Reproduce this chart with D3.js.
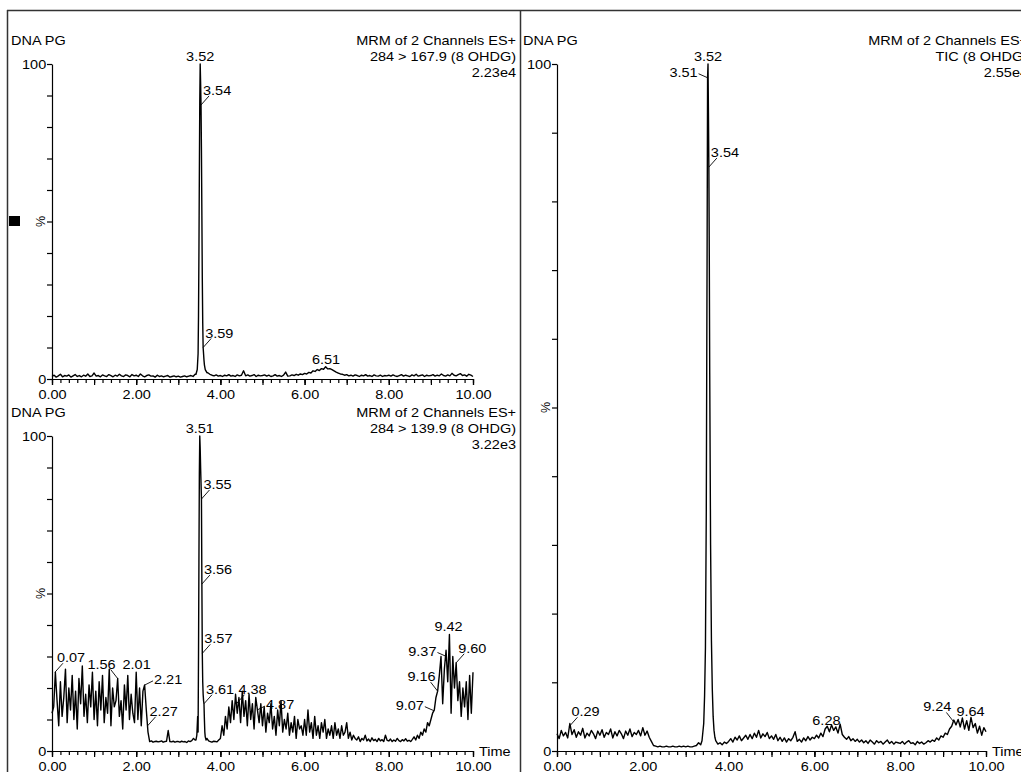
<!DOCTYPE html>
<html><head><meta charset="utf-8">
<script src="https://cdnjs.cloudflare.com/ajax/libs/d3/7.8.5/d3.min.js"></script>
<style>
html,body{margin:0;padding:0;background:#fff;}
svg{display:block;}
text{font-family:"Liberation Sans",Arial,sans-serif;font-size:12.5px;fill:#000;}
</style></head><body><svg id="c" width="1021" height="772"></svg>
<script>
// ---------------- DATA ----------------
const xLabelTicks = [0, 2, 4, 6, 8, 10];
const yTicks = [0, 10, 20, 30, 40, 50, 60, 70, 80, 90, 100];
const minorStep = 0.2;

// Top-left: MRM 284 > 167.9, sampled every 0.05 min
const tlStep = 0.05;
const tlValues = [
  0.8,1.2,0.6,1.0,1.5,0.7,1.1,0.9,1.3,0.6,1.0,1.4,0.8,1.1,0.7,1.2,0.9,1.6,0.8,1.0,
  1.9,0.9,1.1,0.7,1.3,1.0,0.8,1.4,1.1,0.7,1.2,0.9,1.5,1.0,0.8,1.3,1.1,0.7,1.4,1.0,
  1.2,0.8,1.6,1.0,0.7,1.1,1.3,0.9,1.0,0.6,1.2,0.8,1.0,0.7,0.9,1.1,0.6,0.8,1.0,0.7,
  0.9,0.6,0.8,1.0,0.7,0.9,1.1,0.8,1.5,2.0,0,0,0,0,2.0,1.5,1.2,1.0,1.3,0.9,
  1.1,0.8,1.2,1.0,1.4,0.9,1.1,0.8,1.3,1.0,1.2,2.6,1.0,1.3,0.9,1.1,1.4,0.8,1.2,1.0,
  1.1,1.3,0.9,1.2,0.8,1.0,1.4,0.9,1.1,0.8,1.2,2.2,0.9,1.0,1.3,1.1,1.5,1.2,1.6,1.4,
  1.8,1.6,2.1,1.9,2.6,2.4,3.0,2.7,3.3,3.1,3.9,3.2,3.3,3.0,2.6,2.2,1.9,1.6,1.5,1.2,
  1.4,1.0,1.2,0.9,1.3,1.1,0.8,1.2,1.0,1.4,0.9,1.1,0.8,1.3,1.0,0.9,1.2,0.8,1.1,1.0,
  1.2,0.9,1.3,1.0,0.8,1.1,1.4,0.9,1.2,1.0,0.8,1.3,1.0,1.5,0.9,1.1,1.3,0.8,1.2,1.0,
  1.1,1.4,0.9,1.2,1.0,1.6,1.1,0.9,1.3,1.0,1.8,1.2,1.0,1.4,1.7,1.1,1.3,0.9,1.5,1.2,0.8
];
const tlPeak = [[3.42,1.5],[3.45,3],[3.47,8],[3.48,20],[3.49,40],[3.50,65],[3.51,88],[3.52,100],
  [3.53,94],[3.54,87],[3.55,72],[3.56,52],[3.57,32],[3.58,18],[3.59,10],[3.60,8],[3.61,6],
  [3.62,4.5],[3.64,3],[3.66,2.5],[3.68,2]];
const tlLabels = [["3.52",3.52,100,"top"],["3.54",3.54,87,"r"],["3.59",3.59,10,"r"],["6.51",6.51,3.9,"top"]];

// Bottom-left: MRM 284 > 139.9, sampled every 0.04 min
const blStep = 0.04;
const blValues = [
  12,14,25,16,8,22,11,17,26,9,20,13,24,10,19,7,23,15,27,11,18,9,21,14,25,
  10,19,8,22,13,24,9,17,12,26,8,20,14,16,23,11,16,7,21,13,24,10,18,12,9,
  25,10,20,8,19,21,13,6,3,3.2,2.8,3,3.1,2.9,3,3.2,2.8,3,3.1,6.5,3,2.9,3.1,2.8,3,
  3,2.8,3.1,2.9,3,2.7,3.2,3,3.3,4,3.5,0,0,0,0,0,0,4,3.2,3,2.8,3.1,3,2.9,3.5,
  4,8,5,11,7,14,9,16,10,18,12,17,9,19,11,16,8,18,10,15,7,17,13,9,15,
  8,14,6,12,9,15,7,11,5,13,8,16,6,10,7,12,5,9,6,11,4,10,7,8,5,
  10,5,13,6,9,4,11,5,8,4,9,6,10,4,7,5,8,4,9,5,7,4,8,5,6,
  9,4,6,3.5,5,4,3.5,4.5,3,4,3.5,5,3.2,3.8,3,4.2,3.3,3.7,3,4,3.2,3.6,3,5,3.4,
  3.2,3.8,3,3.5,3.1,4,3.3,3,3.6,3.2,3.9,3.1,3.4,3,3.7,4.5,3.5,5,4,6,5,7,6,9,8,
  10,12,13,17,19,24,30,15,26,32,22,37,12,30,20,28,16,22,11,20,14,22,10,24,12,25
];
const blPeak = [[3.42,3.5],[3.44,5],[3.46,11],[3.47,6],[3.48,30],[3.49,60],[3.50,88],[3.51,100],
  [3.52,96],[3.53,90],[3.54,85],[3.55,80],[3.56,53],[3.57,31],[3.58,22],[3.59,18],[3.60,16],
  [3.61,15],[3.62,10],[3.63,6],[3.64,4.5],[3.66,3.5]];
const blLabels = [["0.07",0.07,25,"r"],["1.56",1.56,23,"l"],["2.01",2.01,25,"top"],["2.21",2.21,21,"rs"],
  ["2.27",2.27,8,"r"],["3.51",3.51,100,"top"],["3.55",3.55,80,"r"],["3.56",3.56,53,"r"],
  ["3.57",3.57,31,"r"],["3.61",3.61,15,"r"],["4.38",4.38,15,"r"],["4.87",4.87,13,"rs"],
  ["9.07",9.07,12.8,"ls"],["9.16",9.16,19,"l"],["9.37",9.37,30,"ls"],["9.42",9.42,37,"top"],["9.60",9.60,28,"r"]];

// Right: TIC, sampled every 0.05 min
const trStep = 0.05;
const trValues = [
  2.5,1.8,3.0,2.2,2.7,1.9,4.0,2.4,3.1,2.0,2.8,2.3,3.3,1.9,2.6,2.2,3.0,2.5,1.8,2.9,
  2.3,3.1,2.0,2.7,2.4,3.2,1.9,2.8,2.2,3.0,2.5,1.8,2.9,2.3,3.2,2.1,2.7,2.4,3.0,2.2,
  3.4,2.3,2.9,2.0,1.4,0.8,0.7,0.6,0.7,0.6,0.6,0.7,0.6,0.6,0.7,0.6,0.6,0.7,0.6,0.7,
  0.6,0.7,0.6,0.6,0.7,0.8,1.2,0.9,0,0,0,0,0,0,1.5,1.0,1.2,0.9,1.3,1.1,
  1.4,1.8,1.3,2.0,1.6,2.2,1.5,1.9,2.3,1.7,2.4,1.8,2.6,2.0,3.0,1.9,2.5,2.1,2.7,1.8,
  2.2,1.7,2.4,1.5,2.0,1.4,1.9,1.3,1.8,1.5,2.0,2.8,1.4,1.7,1.3,1.9,1.5,2.1,1.6,2.0,
  1.8,2.3,1.9,2.6,2.1,3.2,3.6,2.8,3.8,3.0,3.5,2.6,3.9,2.4,2.0,1.7,2.1,1.5,1.8,1.4,
  1.7,1.3,1.6,1.2,1.5,1.1,1.6,1.3,1.0,1.5,1.2,1.4,1.0,1.3,1.6,1.1,1.4,1.0,1.3,1.2,
  1.1,1.4,1.0,1.3,1.5,1.1,1.2,0.9,1.4,1.1,1.3,1.0,1.2,1.5,1.3,1.6,1.4,1.9,1.6,2.2,
  2.0,2.6,2.4,3.2,3.6,4.5,3.8,4.6,3.5,4.8,3.2,4.4,3.0,4.9,3.4,4.0,2.6,3.6,2.3,3.4,2.8
];
const trPeak = [[3.38,1.5],[3.42,4],[3.44,8],[3.46,15],[3.48,35],[3.50,75],[3.51,98],[3.52,100],
  [3.53,93],[3.54,85],[3.55,72],[3.56,55],[3.58,30],[3.60,16],[3.62,9],[3.64,5],[3.66,3],[3.68,2]];
const trLabels = [["3.52",3.52,100,"top"],["3.51",3.51,98,"ls"],["3.54",3.54,85,"r"],["0.29",0.29,3.6,"r"],
  ["6.28",6.28,3.4,"top"],["9.24",9.24,4.3,"l"],["9.64",9.64,4.6,"top"]];

const tlHeader = ["MRM of 2 Channels ES+", "284 > 167.9 (8 OHDG)", "2.23e4"];
const blHeader = ["MRM of 2 Channels ES+", "284 > 139.9 (8 OHDG)", "3.22e3"];
const trHeader = ["MRM of 2 Channels ES+", "TIC (8 OHDG)", "2.55e4"];
const sampleName = "DNA PG";
const xTitle = "Time";

// ---------------- LAYOUT ----------------
const SX = 1.16;
const svg = d3.select("#c");

function merge(values, step, peak) {
  const lo = peak[0][0], hi = peak[peak.length - 1][0];
  const base = values.map((v, i) => [+(i * step).toFixed(3), v]).filter(d => d[0] < lo || d[0] > hi);
  return base.concat(peak).sort((a, b) => a[0] - b[0]);
}

function txt(g, x, y, s, anchor) {
  return g.append("text").attr("transform", `translate(${x},${y}) scale(${SX},1)`)
    .attr("text-anchor", anchor || "start").text(s);
}

const panels = [
  {values: tlValues, step: tlStep, peak: tlPeak, labels: tlLabels, header: tlHeader,
   x0: 52, x1: 473, y0: 379, y100: 64, nameX: 11, headRight: 516, time: false},
  {values: blValues, step: blStep, peak: blPeak, labels: blLabels, header: blHeader,
   x0: 52, x1: 473, y0: 751, y100: 436, nameX: 11, headRight: 516, time: true},
  {values: trValues, step: trStep, peak: trPeak, labels: trLabels, header: trHeader,
   x0: 557, x1: 986, y0: 751, y100: 64, nameX: 523, headRight: 1028, time: true}
];

// frame
svg.append("line").attr("x1", 7).attr("x2", 1021).attr("y1", 10.5).attr("y2", 10.5).attr("stroke", "#333").attr("stroke-width", 1.5);
svg.append("line").attr("x1", 7.5).attr("x2", 7.5).attr("y1", 10).attr("y2", 772).attr("stroke", "#333").attr("stroke-width", 1.5);
svg.append("line").attr("x1", 520.5).attr("x2", 520.5).attr("y1", 10).attr("y2", 772).attr("stroke", "#333").attr("stroke-width", 1.5);
svg.append("rect").attr("x", 9).attr("y", 216).attr("width", 11).attr("height", 10).attr("fill", "#000");

panels.forEach(p => {
  const g = svg.append("g");
  const x = d3.scaleLinear().domain([0, 10]).range([p.x0, p.x1]);
  const y = d3.scaleLinear().domain([0, 100]).range([p.y0, p.y100]);

  // x axis: minor ticks
  g.append("g").attr("transform", `translate(0,${p.y0})`)
    .call(d3.axisBottom(x).tickValues(d3.range(0, 50.5, 1).map(i => i * minorStep)).tickSize(4).tickSizeOuter(0).tickFormat(""));
  g.append("g").attr("transform", `translate(0,${p.y0})`)
    .call(d3.axisBottom(x).tickValues(d3.range(0, 11)).tickSize(6).tickSizeOuter(0).tickFormat(""))
    .call(a => a.select(".domain").remove());
  g.append("g").attr("transform", `translate(0,${p.y0})`)
    .call(d3.axisBottom(x).tickValues(xLabelTicks).tickSize(6).tickSizeOuter(0).tickPadding(3).tickFormat(d3.format(".2f")))
    .call(a => a.select(".domain").remove())
    .call(a => a.selectAll("text").attr("transform", `scale(${SX},1)`).attr("dy", "0.9em"));

  // y axis
  g.append("g").attr("transform", `translate(${p.x0},0)`)
    .call(d3.axisLeft(y).tickValues(yTicks).tickSize(5).tickSizeOuter(0).tickPadding(0)
      .tickFormat(d => (d === 0 || d === 100) ? d : ""))
    .call(a => a.selectAll("text").attr("transform", `scale(${SX},1)`));
  g.selectAll(".tick line, .domain").attr("stroke", "#000").attr("stroke-width", 1.2);

  // % label
  const pctY = y(50);
  g.append("text").attr("transform", `translate(${p.x0 - 7},${pctY}) rotate(-90)`)
    .attr("text-anchor", "middle").text("%");

  // headers
  txt(g, p.nameX, p.y100 - 19, sampleName);
  p.header.forEach((h, i) => txt(g, p.headRight, p.y100 - 19 + i * 16, h, "end"));
  if (p.time) txt(g, p.x1 + 6, p.y0 + 5, xTitle);

  // trace
  const data = merge(p.values, p.step, p.peak);
  g.append("path").datum(data)
    .attr("d", d3.line().x(d => x(d[0])).y(d => y(d[1])))
    .attr("fill", "none").attr("stroke", "#000").attr("stroke-width", 1.4).attr("stroke-linejoin", "round");

  // peak labels
  p.labels.forEach(([s, t, v, kind]) => {
    const px = x(t), py = y(v);
    let lx = null, ly, tx, ty, anchor;
    if (kind === "top") { tx = px; ty = py - 3; anchor = "middle"; }
    else if (kind === "r") { lx = px + 8; ly = py - 9; tx = px + 2; ty = py - 10; anchor = "start"; }
    else if (kind === "rs") { lx = px + 8; ly = py - 4; tx = px + 9; ty = py - 1; anchor = "start"; }
    else if (kind === "l") { lx = px - 7; ly = py - 9; tx = px - 2; ty = py - 10; anchor = "end"; }
    else { lx = px - 9; ly = py - 4; tx = px - 10; ty = py - 1; anchor = "end"; }
    if (lx !== null) g.append("line").attr("x1", px).attr("y1", py).attr("x2", lx).attr("y2", ly)
      .attr("stroke", "#000").attr("stroke-width", 0.9);
    txt(g, tx, ty, s, anchor);
  });
});
</script></body></html>
